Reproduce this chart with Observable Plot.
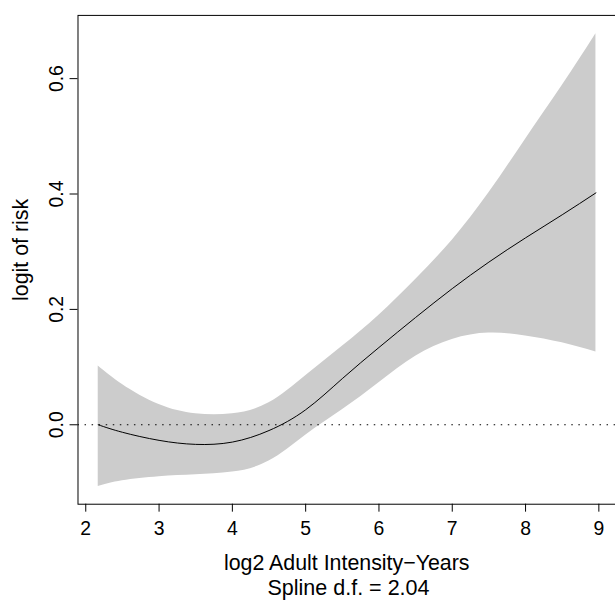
<!DOCTYPE html>
<html><head><meta charset="utf-8">
<script src="https://cdn.jsdelivr.net/npm/d3@7"></script>
<script src="https://cdn.jsdelivr.net/npm/@observablehq/plot@0.6"></script>
<style>
html,body{margin:0;padding:0;background:#fff;overflow:hidden}
#wrap{width:615px;height:600px;overflow:hidden;position:relative;font-family:"Liberation Sans",Arial,Helvetica,sans-serif}
#chart svg{display:block}
#cap{position:absolute;left:78px;width:541px;top:577px;text-align:center;font-size:21.5px;line-height:22px;color:#000}
</style></head><body>
<div id="wrap"><div id="chart"></div><div id="cap"></div></div>
<script>
// Spline fit (logit of risk) with confidence band
const xs    = [2.17, 2.5, 3.0, 3.5, 4.0, 4.5, 5.0, 5.5, 6.0, 6.5, 7.0, 7.5, 8.0, 8.5, 8.96];
const fit   = [0.000, -0.013, -0.027, -0.034, -0.030, -0.010, 0.026, 0.080, 0.134, 0.186, 0.236, 0.282, 0.324, 0.364, 0.402];
const upper = [0.102, 0.070, 0.035, 0.019, 0.019, 0.038, 0.085, 0.136, 0.190, 0.252, 0.320, 0.402, 0.495, 0.588, 0.678];
const lower = [-0.107, -0.097, -0.090, -0.0865, -0.082, -0.063, -0.018, 0.026, 0.073, 0.119, 0.148, 0.159, 0.154, 0.142, 0.126];
const xTicks = [2, 3, 4, 5, 6, 7, 8, 9];
const yTicks = [0.0, 0.2, 0.4, 0.6];
const refY = [0];
const xLabel = "log2 Adult Intensity\u2212Years";
const yLabel = "logit of risk";
const caption = "Spline d.f. = 2.04";

const data = xs.map((x, i) => ({x, fit: fit[i], lo: lower[i], hi: upper[i]}));
const font = '"Liberation Sans", Arial, Helvetica, sans-serif';

const chart = Plot.plot({
  width: 619, height: 577,
  marginLeft: 78, marginRight: 0, marginTop: 15, marginBottom: 70,
  style: {fontFamily: font, fontSize: "19px", background: "white", color: "black", overflow: "visible"},
  x: {domain: [1.894, 9.227]},
  y: {domain: [-0.1377, 0.7096]},
  marks: [
    Plot.areaY(data, {x: "x", y1: "lo", y2: "hi", fill: "#cccccc", curve: "natural"}),
    Plot.lineY(data, {x: "x", y: "fit", stroke: "black", strokeWidth: 1, curve: "natural"}),
    Plot.ruleY(refY, {stroke: "black", strokeWidth: 1.1, strokeDasharray: "1.5,5.6"}),
    Plot.frame({stroke: "black", strokeWidth: 1}),
    Plot.axisX({ticks: xTicks, tickSize: 8, tickPadding: 9, label: null, fontSize: 19.5, stroke: "black"}),
    Plot.axisY({ticks: yTicks, tickFormat: d3.format(".1f"), tickSize: 8, tickPadding: 7, tickRotate: -90, label: null, fontSize: 19.5}),
    Plot.text([xLabel], {text: d => d, frameAnchor: "bottom", dy: 66, fontSize: 21.5, fill: "black"}),
    Plot.text([yLabel], {text: d => d, frameAnchor: "left", textAnchor: "middle", rotate: -90, dx: -57, dy: -10, fontSize: 21.5, fill: "black"})
  ]
});
document.getElementById("chart").appendChild(chart);
document.getElementById("cap").textContent = caption;
</script>
</body></html>
